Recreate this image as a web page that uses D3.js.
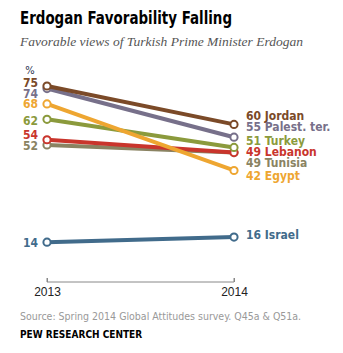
<!DOCTYPE html>
<html>
<head>
<meta charset="utf-8">
<script src="https://cdn.jsdelivr.net/npm/d3@7"></script>
<style>
  body { margin: 0; background: #fff; }
  svg { display: block; }
  .lbl { font-family: "DejaVu Sans Condensed", "DejaVu Sans", sans-serif; font-weight: bold; font-size: 12px; }
</style>
</head>
<body>
<svg id="chart" width="343" height="353"></svg>
<script>
var years = ["2013", "2014"];
var countries = ["Jordan", "Palest. ter.", "Turkey", "Lebanon", "Tunisia", "Egypt", "Israel"];
var v2013 = [75, 74, 62, 54, 52, 68, 14];
var v2014 = [60, 55, 51, 49, 49, 42, 16];
var colors = ["#7b4a28", "#77708a", "#8b9a3c", "#c9352c", "#8a8362", "#eea631", "#416b8b"];
// small nudges so stacked labels do not overlap
var leftNudge = [-3, 5, 2, -5, 1, 0, 1];
var rightNudge = [-8, -10, -6, -1, 10, 6, -2];

var svg = d3.select("#chart");

var x = d3.scalePoint().domain(years).range([47, 234]);
var y = d3.scaleLinear().domain([0, 100]).range([278, 22]);

svg.append("text").attr("x", 20).attr("y", 24)
  .style("font-family", "'DejaVu Sans Condensed', 'DejaVu Sans', sans-serif")
  .style("font-weight", "bold").style("font-size", "17px").attr("fill", "#000")
  .attr("textLength", 212).attr("lengthAdjust", "spacingAndGlyphs")
  .text("Erdogan Favorability Falling");
svg.append("text").attr("x", 20).attr("y", 46)
  .style("font-family", "'Liberation Serif', serif").style("font-style", "italic")
  .style("font-size", "13.5px").attr("fill", "#555")
  .text("Favorable views of Turkish Prime Minister Erdogan");

svg.append("text").attr("x", 30).attr("y", 74).attr("text-anchor", "middle")
  .style("font-family", "'DejaVu Sans Condensed', sans-serif").style("font-size", "11px").attr("fill", "#2a3550")
  .text("%");

var rows = countries.map(function(c, i) {
  return { name: c, a: v2013[i], b: v2014[i], color: colors[i], ln: leftNudge[i], rn: rightNudge[i] };
});

// draw order: back to front
var order = [6, 4, 3, 2, 5, 1, 0];
var g = svg.append("g");
order.forEach(function(i) {
  var d = rows[i];
  g.append("line")
    .attr("x1", x("2013")).attr("y1", y(d.a))
    .attr("x2", x("2014")).attr("y2", y(d.b))
    .attr("stroke", d.color).attr("stroke-width", 4);
  [[x("2013"), y(d.a)], [x("2014"), y(d.b)]].forEach(function(p) {
    g.append("circle").attr("cx", p[0]).attr("cy", p[1]).attr("r", 3.6)
      .attr("fill", "#fff").attr("stroke", d.color).attr("stroke-width", 2);
  });
});

svg.selectAll("text.left").data(rows).enter().append("text")
  .attr("class", "lbl left")
  .attr("x", 38).attr("y", function(d) { return y(d.a) + d.ln + 4; })
  .attr("text-anchor", "end").attr("fill", function(d) { return d.color; })
  .text(function(d) { return d.a; });

svg.selectAll("text.right").data(rows).enter().append("text")
  .attr("class", "lbl right")
  .attr("x", 246).attr("y", function(d) { return y(d.b) + d.rn + 4; })
  .attr("fill", function(d) { return d.color; })
  .text(function(d) { return d.b + " " + d.name; });

var axis = svg.append("g").attr("transform", "translate(0,282)")
  .call(d3.axisBottom(x).tickSize(-4).tickPadding(5));
axis.select(".domain").attr("d", "M" + x("2013") + ",-4V0H" + x("2014") + "V-4").attr("stroke", "#888");
axis.selectAll(".tick line").attr("stroke", "#888");
axis.selectAll(".tick text").style("font-family", "'Liberation Sans', sans-serif")
  .style("font-size", "12px").attr("fill", "#222");

svg.append("text").attr("x", 20).attr("y", 320)
  .style("font-family", "'DejaVu Sans Condensed', sans-serif").style("font-size", "10.5px").attr("fill", "#999")
  .text("Source: Spring 2014 Global Attitudes survey. Q45a & Q51a.");
svg.append("text").attr("x", 20).attr("y", 338)
  .style("font-family", "'DejaVu Sans Condensed', sans-serif").style("font-weight", "bold")
  .style("font-size", "10px").attr("fill", "#000")
  .text("PEW RESEARCH CENTER");
</script>
</body>
</html>
